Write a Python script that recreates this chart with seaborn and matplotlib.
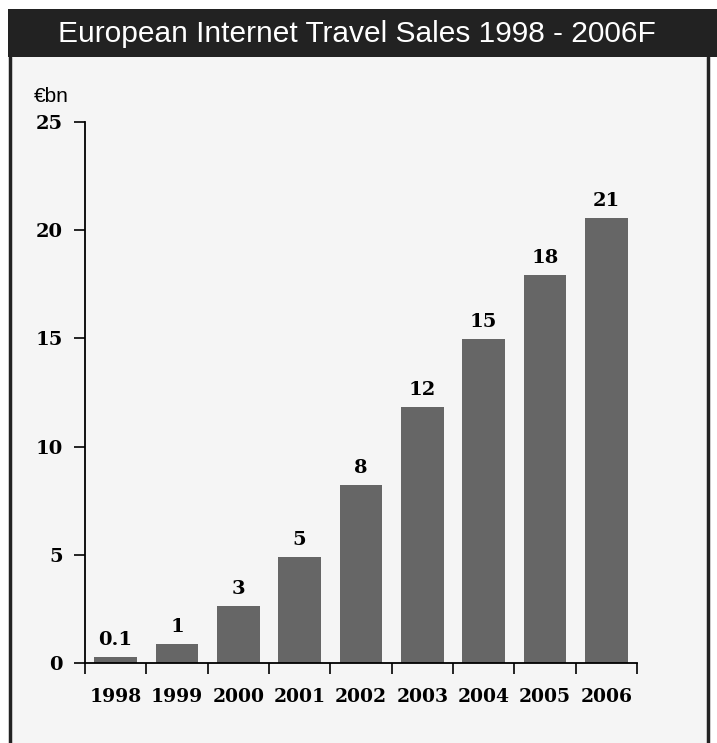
import matplotlib
matplotlib.use('Agg')
import seaborn as sns
import matplotlib.pyplot as plt
import numpy as np
import pandas as pd
from matplotlib.patches import Rectangle
from matplotlib.lines import Line2D

# Data
years = ['1998', '1999', '2000', '2001', '2002', '2003', '2004', '2005', '2006']
sales = [0.28, 0.86, 2.63, 4.9, 8.22, 11.82, 14.96, 17.92, 20.56]
sales_labels = ['0.1', '1', '3', '5', '8', '12', '15', '18', '21']
y_ticks = [0, 5, 10, 15, 20, 25]

df = pd.DataFrame({'year': years, 'sales': sales})

sns.set_style('white')
plt.rcParams['font.family'] = ['DejaVu Serif']
plt.rcParams['text.color'] = 'black'
plt.rcParams['xtick.color'] = 'black'
plt.rcParams['ytick.color'] = 'black'
num_font = dict(fontsize=14, fontweight='bold', family='DejaVu Serif', color='black')
sans = ['Liberation Sans Narrow', 'Liberation Sans', 'DejaVu Sans']

fig = plt.figure(figsize=(7.17, 7.43), dpi=100)
fig.patch.set_facecolor('white')

# panel background + border
fig.patches.append(Rectangle((10 / 717, 0), 698 / 717, 1 - 10 / 743,
                             transform=fig.transFigure, facecolor='#f5f5f5',
                             edgecolor='none', zorder=-2))
for xp in [10, 708]:
    fig.lines.append(Line2D([xp / 717, xp / 717], [0, 1 - 57 / 743],
                            transform=fig.transFigure, color='#222222', lw=2.5))

# header bar
fig.patches.append(Rectangle((8 / 717, 1 - 57 / 743), 1, 48 / 743,
                             transform=fig.transFigure, facecolor='#222222',
                             edgecolor='none', zorder=-1))
fig.text(357 / 717, 1 - 34 / 743, 'European Internet Travel Sales 1998 - 2006F',
         color='white', ha='center', va='center', fontsize=21.5, family=sans)

ax = fig.add_axes([85 / 717, 80 / 743, 552 / 717, 541 / 743])
ax.set_facecolor('none')
sns.barplot(data=df, x='year', y='sales', color='#666666', width=0.7,
            saturation=1, linewidth=0, ax=ax)

ax.bar_label(ax.containers[0], labels=sales_labels, padding=6, **num_font)

ax.set_xlim(-0.5, len(years) - 0.5)
ax.set_ylim(0, 25)
ax.set_yticks(y_ticks)
ax.set_yticklabels([str(t) for t in y_ticks], **num_font)
ax.set_xticks(np.arange(-0.5, len(years), 1))
ax.set_xticklabels([])
ax.set_xticks(np.arange(len(years)), minor=True)
ax.set_xticklabels(years, minor=True, **{**num_font, 'fontsize': 13.5})
ax.tick_params(axis='x', which='major', bottom=True, direction='out',
               length=8, width=1.2, color='black')
ax.tick_params(axis='x', which='minor', bottom=True, length=0, pad=18)
ax.tick_params(axis='y', left=True, direction='out', length=8, width=1.2,
               color='black', pad=8)
ax.set_xlabel('')
ax.set_ylabel('')

for s in ['top', 'right']:
    ax.spines[s].set_visible(False)
for s in ['left', 'bottom']:
    ax.spines[s].set_color('black')
    ax.spines[s].set_linewidth(1.3)

fig.text(34 / 717, 1 - 97 / 743, '€bn', fontsize=15, va='center', ha='left',
         family=sans, color='black')

plt.savefig('out.png', dpi=100)
